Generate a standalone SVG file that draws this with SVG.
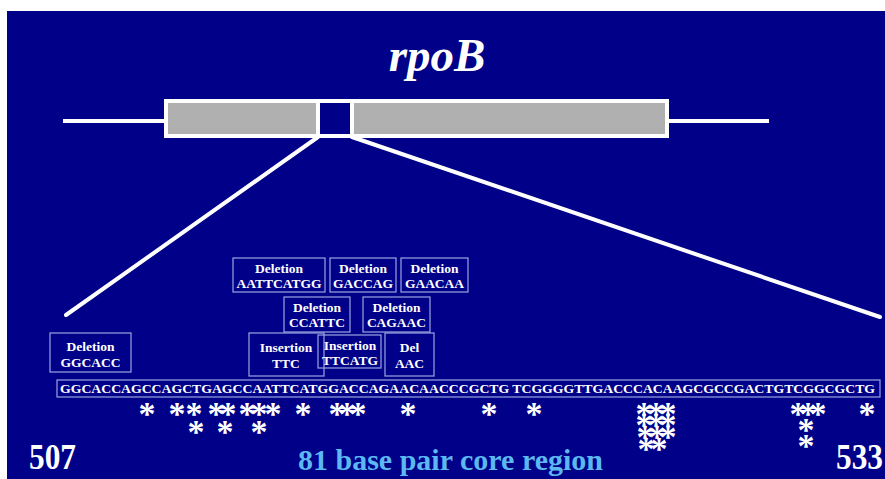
<svg xmlns="http://www.w3.org/2000/svg" width="885" height="479" viewBox="0 0 885 479">
  <style>
    .bg { fill: #000088; }
    .wline { stroke: #ffffff; stroke-width: 4; fill: none; }
    .zoom { stroke: #ffffff; stroke-width: 4; fill: none; stroke-linecap: round; }
    .box { fill: none; stroke: #9aa6e0; stroke-width: 1.2; }
    .lbl { font-family: "Liberation Serif", "Times New Roman", serif; font-weight: bold; font-size: 13.5px; fill: #ffffff; text-anchor: middle; }
    .seq { font-family: "Liberation Serif", "Times New Roman", serif; font-weight: bold; font-size: 12.5px; fill: #ffffff; }
    .star { font-family: "Liberation Serif", "Times New Roman", serif; font-weight: bold; font-size: 34px; fill: #ffffff; text-anchor: middle; }
    .num { font-family: "Liberation Serif", "Times New Roman", serif; font-weight: bold; font-size: 36px; fill: #ffffff; }
  </style>

  <rect width="885" height="479" fill="#ffffff"/>
  <rect class="bg" x="7" y="11" width="878" height="468"/>

  <!-- gene title -->
  <text x="437" y="71" font-family="Liberation Serif, Times New Roman, serif" font-weight="bold" font-style="italic" font-size="47" fill="#ffffff" text-anchor="middle">rpoB</text>

  <!-- gene body -->
  <g id="gene">
    <line class="wline" x1="63" y1="121" x2="166" y2="121"/>
    <line class="wline" x1="667" y1="121" x2="769" y2="121"/>
    <rect x="166" y="101" width="501" height="35" fill="#b0b0b0" stroke="#ffffff" stroke-width="4"/>
    <rect x="318" y="101" width="34" height="35" fill="#000088" stroke="#ffffff" stroke-width="4"/>
  </g>

  <!-- zoom lines to the core region -->
  <g id="connectors">
    <line class="zoom" x1="318" y1="137" x2="66" y2="315"/>
    <line class="zoom" x1="352" y1="137" x2="880" y2="317"/>
  </g>

  <!-- mutation boxes -->
  <g id="del-ggcacc">
    <rect class="box" x="50" y="333" width="81" height="39"/>
    <text class="lbl" x="90.5" y="351">Deletion</text>
    <text class="lbl" x="90.5" y="367">GGCACC</text>
  </g>
  <g id="del-aattcatgg">
    <rect class="box" x="233" y="258" width="92" height="34"/>
    <text class="lbl" x="279" y="273">Deletion</text>
    <text class="lbl" x="279" y="288">AATTCATGG</text>
  </g>
  <g id="del-gaccag">
    <rect class="box" x="330" y="258" width="66" height="34"/>
    <text class="lbl" x="363" y="273">Deletion</text>
    <text class="lbl" x="363" y="288">GACCAG</text>
  </g>
  <g id="del-gaacaa">
    <rect class="box" x="401" y="258" width="67" height="34"/>
    <text class="lbl" x="434.5" y="273">Deletion</text>
    <text class="lbl" x="434.5" y="288">GAACAA</text>
  </g>
  <g id="del-ccattc">
    <rect class="box" x="284" y="297" width="66" height="35"/>
    <text class="lbl" x="317" y="312">Deletion</text>
    <text class="lbl" x="317" y="327">CCATTC</text>
  </g>
  <g id="del-cagaac">
    <rect class="box" x="363" y="297" width="67" height="35"/>
    <text class="lbl" x="396.5" y="312">Deletion</text>
    <text class="lbl" x="396.5" y="327">CAGAAC</text>
  </g>
  <g id="ins-ttc">
    <rect class="box" x="249" y="333" width="75" height="43"/>
    <text class="lbl" x="286" y="352">Insertion</text>
    <text class="lbl" x="286" y="368">TTC</text>
  </g>
  <g id="ins-ttcatg">
    <rect class="box" x="318" y="335" width="63" height="33"/>
    <text class="lbl" x="350" y="350">Insertion</text>
    <text class="lbl" x="350" y="365">TTCATG</text>
  </g>
  <g id="del-aac">
    <rect class="box" x="385" y="333" width="49" height="43"/>
    <text class="lbl" x="409.5" y="352">Del</text>
    <text class="lbl" x="409.5" y="368">AAC</text>
  </g>

  <!-- 81 bp core sequence -->
  <g id="sequence">
    <rect class="box" x="57" y="380" width="823" height="17"/>
    <text class="seq" x="60" y="393" textLength="815" lengthAdjust="spacingAndGlyphs">GGCACCAGCCAGCTGAGCCAATTCATGGACCAGAACAACCCGCTG TCGGGGTTGACCCACAAGCGCCGACTGTCGGCGCTG</text>
  </g>

  <!-- mutation position markers -->
  <g id="markers">
    <text class="star" y="425">
      <tspan x="147">*</tspan><tspan x="177">*</tspan><tspan x="194">*</tspan><tspan x="216">*</tspan><tspan x="228">*</tspan><tspan x="247">*</tspan><tspan x="259">*</tspan><tspan x="273">*</tspan><tspan x="303">*</tspan><tspan x="337">*</tspan><tspan x="347">*</tspan><tspan x="358">*</tspan><tspan x="408">*</tspan><tspan x="489">*</tspan><tspan x="534">*</tspan><tspan x="644">*</tspan><tspan x="656">*</tspan><tspan x="668">*</tspan><tspan x="798">*</tspan><tspan x="808">*</tspan><tspan x="818">*</tspan><tspan x="867">*</tspan>
    </text>
    <text class="star" y="443">
      <tspan x="196">*</tspan><tspan x="225">*</tspan><tspan x="259">*</tspan>
    </text>
    <text class="star" y="436">
      <tspan x="644">*</tspan><tspan x="656">*</tspan><tspan x="668">*</tspan>
    </text>
    <text class="star" y="448">
      <tspan x="645">*</tspan><tspan x="657">*</tspan><tspan x="668">*</tspan>
    </text>
    <text class="star" y="460">
      <tspan x="646">*</tspan><tspan x="659">*</tspan>
    </text>
    <text class="star" y="441"><tspan x="806">*</tspan></text>
    <text class="star" y="457"><tspan x="806">*</tspan></text>
  </g>

  <!-- codon numbers and caption -->
  <text class="num" x="29" y="469" textLength="47" lengthAdjust="spacingAndGlyphs">507</text>
  <text class="num" x="836" y="469" textLength="47" lengthAdjust="spacingAndGlyphs">533</text>
  <text x="298" y="470" textLength="305" lengthAdjust="spacingAndGlyphs" font-family="Liberation Serif, Times New Roman, serif" font-weight="bold" font-size="29" fill="#5cb8f0">81 base pair core region</text>
</svg>
